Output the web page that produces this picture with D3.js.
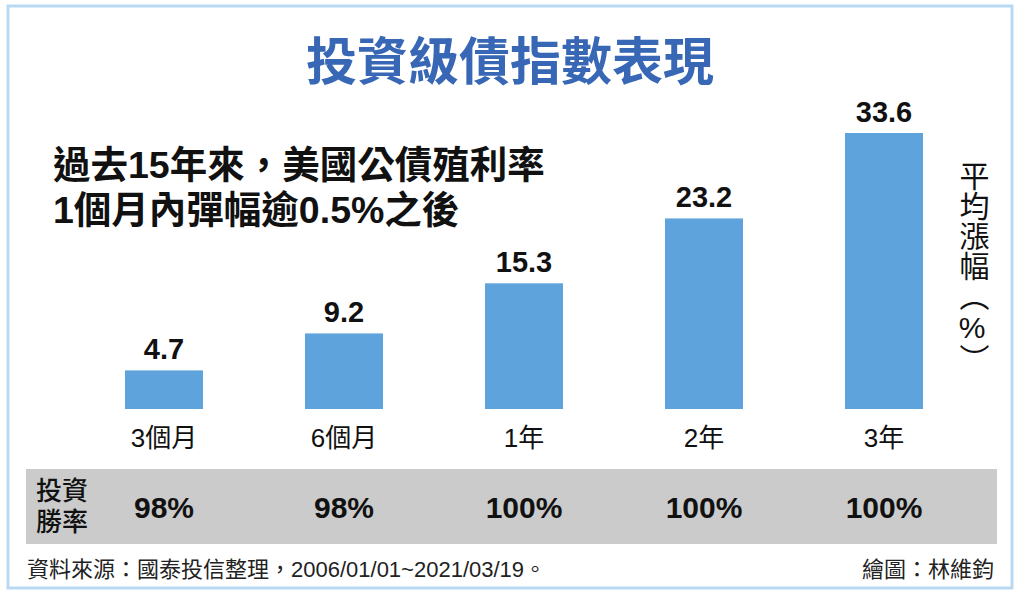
<!DOCTYPE html>
<html>
<head>
<meta charset="utf-8">
<script src="https://cdn.jsdelivr.net/npm/d3@7"></script>
<style>
  html, body { margin: 0; padding: 0; background: #fff; }
  svg { display: block; }
  text { font-family: "Liberation Sans", "Noto Sans CJK TC", sans-serif; }
</style>
</head>
<body>
<svg id="chart" width="1024" height="593"></svg>
<script>
const title = "投資級債指數表現";
const subtitleLines = ["過去15年來，美國公債殖利率", "1個月內彈幅逾0.5%之後"];
const categories = ["3個月", "6個月", "1年", "2年", "3年"];
const values = [4.7, 9.2, 15.3, 23.2, 33.6];
const winRates = ["98%", "98%", "100%", "100%", "100%"];
const winLabel = ["投資", "勝率"];
const yAxisLabel = "平均漲幅（%）";
const sourceText = "資料來源：國泰投信整理，2006/01/01~2021/03/19。";
const creditText = "繪圖：林維鈞";

const svg = d3.select("#chart");

// frame
svg.append("rect")
  .attr("x", 8).attr("y", 6).attr("width", 1004).attr("height", 582)
  .attr("fill", "#fff").attr("stroke", "#b9d9f3").attr("stroke-width", 3);

// title
svg.append("text")
  .attr("x", 510).attr("y", 80)
  .attr("text-anchor", "middle")
  .attr("font-size", 51).attr("font-weight", 700)
  .attr("fill", "#3767b5")
  .text(title);

// subtitle
svg.selectAll("text.sub").data(subtitleLines).enter().append("text")
  .attr("class", "sub")
  .attr("x", 53).attr("y", (d, i) => 178 + i * 45)
  .attr("font-size", 37.5).attr("font-weight", 700)
  .attr("fill", "#111")
  .text(d => d);

// scales
const x = d3.scaleBand().domain(categories).range([74, 974])
  .paddingInner(0.5667).paddingOuter(0.2833);
const y = d3.scaleLinear().domain([0, 35]).range([409, 409 - 35 * 8.214]);

// bars
svg.selectAll("rect.bar").data(values).enter().append("rect")
  .attr("class", "bar")
  .attr("x", (d, i) => x(categories[i]))
  .attr("width", x.bandwidth())
  .attr("y", d => y(d))
  .attr("height", d => y(0) - y(d))
  .attr("fill", "#5fa3dd");

// value labels
svg.selectAll("text.val").data(values).enter().append("text")
  .attr("class", "val")
  .attr("x", (d, i) => x(categories[i]) + x.bandwidth() / 2)
  .attr("y", d => y(d) - 11)
  .attr("text-anchor", "middle")
  .attr("font-size", 29).attr("font-weight", 700)
  .attr("fill", "#111")
  .text(d => d.toFixed(1));

// category axis labels
const xAxis = d3.axisBottom(x).tickSize(0).tickPadding(0);
const gx = svg.append("g").attr("transform", "translate(0,447)").call(xAxis);
gx.select(".domain").remove();
gx.selectAll(".tick text")
  .attr("y", 0).attr("dy", 0)
  .attr("font-size", 26)
  .attr("font-family", "\"Liberation Sans\", \"Noto Sans CJK TC\", sans-serif")
  .attr("fill", "#111");

// win-rate band
svg.append("rect")
  .attr("x", 26).attr("y", 469).attr("width", 971).attr("height", 75)
  .attr("fill", "#cbcbcb");

svg.selectAll("text.wl").data(winLabel).enter().append("text")
  .attr("class", "wl")
  .attr("x", 62).attr("y", (d, i) => 500 + i * 31)
  .attr("text-anchor", "middle")
  .attr("font-size", 26).attr("font-weight", 500)
  .attr("fill", "#111")
  .text(d => d);

svg.selectAll("text.wr").data(winRates).enter().append("text")
  .attr("class", "wr")
  .attr("x", (d, i) => x(categories[i]) + x.bandwidth() / 2)
  .attr("y", 518)
  .attr("text-anchor", "middle")
  .attr("font-size", 30).attr("font-weight", 700)
  .attr("fill", "#111")
  .text(d => d);

// vertical y label
svg.append("text")
  .attr("x", 972).attr("y", 161)
  .style("writing-mode", "vertical-rl")
  .style("text-orientation", "upright")
  .attr("font-size", 30)
  .attr("font-family", "\"Noto Sans CJK TC\", sans-serif")
  .attr("fill", "#111")
  .text(yAxisLabel);

// footer
svg.append("text")
  .attr("x", 27).attr("y", 577)
  .attr("font-size", 22)
  .attr("fill", "#222")
  .text(sourceText);

svg.append("text")
  .attr("x", 994).attr("y", 577)
  .attr("text-anchor", "end")
  .attr("font-size", 22)
  .attr("fill", "#222")
  .text(creditText);
</script>
</body>
</html>
